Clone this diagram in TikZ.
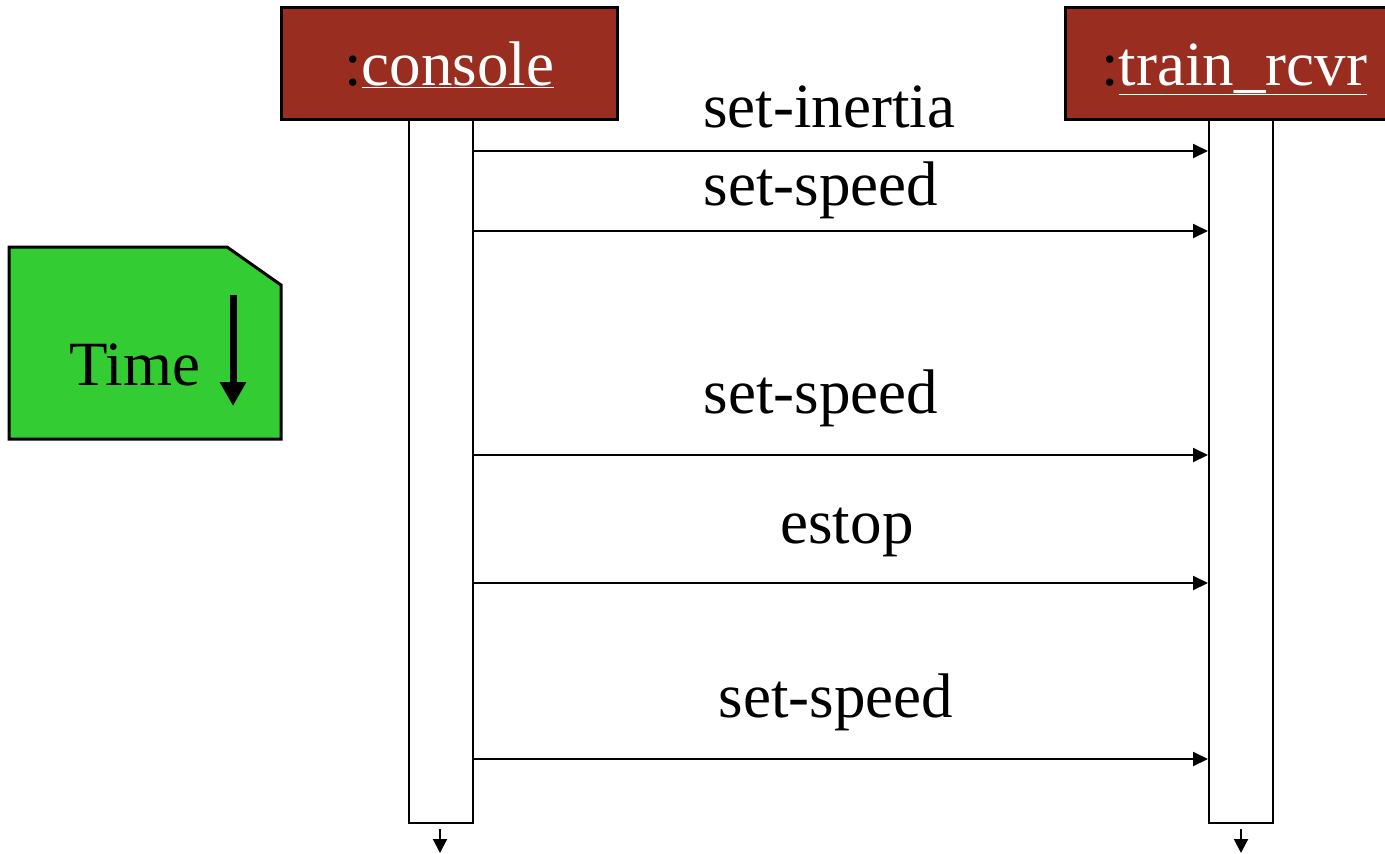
\documentclass[tikz,border=0pt]{standalone}
\usepackage{fontspec}
\setmainfont{Liberation Serif}
\usetikzlibrary{arrows.meta}
\definecolor{objred}{RGB}{153,45,31}
\definecolor{notegreen}{RGB}{51,204,51}
\begin{document}
\begin{tikzpicture}[x=1pt,y=-1pt,
 objbox/.style={draw=black,line width=3pt,fill=objred,minimum width=336pt,minimum height=112pt,inner sep=0pt,font=\fontsize{63}{70}\selectfont},
 life/.style={draw=black,line width=2pt,fill=white,minimum width=64pt,minimum height=704pt,inner sep=0pt},
 msg/.style={line width=2pt,-{Triangle[length=15pt,width=14pt]}},
 endarr/.style={line width=2pt,-{Triangle[length=14pt,width=14pt]}},
 lbl/.style={font=\fontsize{63}{70}\selectfont,anchor=base,inner sep=0pt}]
\useasboundingbox (0,0) rectangle (1385,854);
% lifelines
\node[life] (clife) at (441,471) {};
\node[life] (tlife) at (1241,471) {};
% object boxes
\node[objbox] (cbox) at (449,63) {};
\node[objbox,minimum width=338pt] (tbox) at (1234,63) {};
\node[lbl] (ctext) at (449,85) {:\textcolor{white}{\underline{console}}};
\node[lbl] (ttext) at (1234,85) {:\textcolor{white}{\underline{train\_rcvr}}};
% message rows
\coordinate (m1) at (0,151);
\coordinate (m2) at (0,231);
\coordinate (m3) at (0,455);
\coordinate (m4) at (0,583);
\coordinate (m5) at (0,759);
\draw[msg] (clife.east |- m1) -- (tlife.west |- m1);
\draw[msg] (clife.east |- m2) -- (tlife.west |- m2);
\draw[msg] (clife.east |- m3) -- (tlife.west |- m3);
\draw[msg] (clife.east |- m4) -- (tlife.west |- m4);
\draw[msg] (clife.east |- m5) -- (tlife.west |- m5);
\node[lbl] (l1) at (829,127) {set-inertia};
\node[lbl] (l2) at (821,205) {set-speed};
\node[lbl] (l3) at (821,413) {set-speed};
\node[lbl] (l4) at (847,543) {estop};
\node[lbl] (l5) at (836,717) {set-speed};
% lifeline continuation arrows
\coordinate (ce) at (440,853);
\coordinate (te) at (1241,853);
\draw[endarr] ([yshift=-5pt]clife.south -| ce) -- (ce);
\draw[endarr] ([yshift=-5pt]tlife.south -| te) -- (te);
% time note
\draw[fill=notegreen,line width=3pt] (9,247) -- (227,247) -- (281,285) -- (281,439) -- (9,439) -- cycle;
\node[lbl] (time) at (135,385) {Time};
\coordinate (ta) at (233,295);
\coordinate (tb) at (233,406);
\draw[line width=7pt,-{Triangle[length=24pt,width=25pt]}] (ta) -- (tb);
\end{tikzpicture}
\end{document}
